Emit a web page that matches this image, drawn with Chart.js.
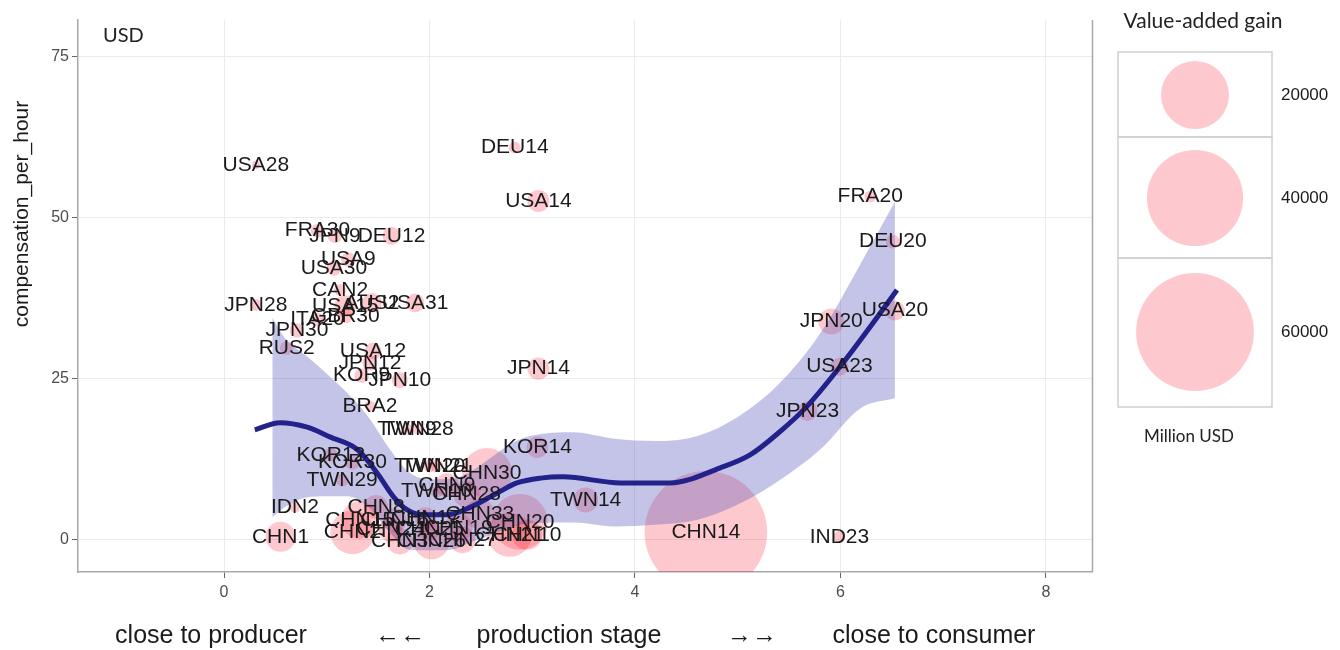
<!DOCTYPE html>
<html><head><meta charset="utf-8">
<script src="https://cdn.jsdelivr.net/npm/chart.js@4.4.1/dist/chart.umd.min.js"></script>
<style>html,body{margin:0;padding:0;background:#fff;} canvas{display:block;}</style>
</head><body>
<canvas id="c" width="1340" height="650"></canvas>
<script>
const labels = ['USA28','DEU14','USA14','FRA20','DEU20','USA20','JPN20','USA23','JPN23','IND23','CHN14','TWN14','KOR14','JPN14',
 'JPN28','FRA30','JPN9','DEU12','USA9','USA30','CAN2','USA31','USA15','AUS2','GBR30','ITA20','JPN30','RUS2','USA12','JPN12','KOR9','JPN10','BRA2',
 'TWN9','TWN28','KOR12','KOR30','TWN29','IDN2','CHN1','TWN20','TWN21','CHN30','CHN9','TWN10','CHN28','CHN8','CHN33','CHN20','CHN21','CHN10',
 'CHN15','CHN16','CHN17','CHN2','CHN24','CHN25','CHN19','CHN3','CHN26','CHN27'];
const stage = [0.31,2.83,3.06,6.29,6.51,6.53,5.91,5.99,5.68,5.99,4.69,3.52,3.05,3.06,
 0.31,0.91,1.08,1.63,1.21,1.07,1.13,1.86,1.18,1.44,1.18,0.91,0.71,0.61,1.45,1.42,1.34,1.71,1.42,
 1.78,1.89,1.04,1.25,1.15,0.69,0.55,2.00,2.07,2.56,2.17,2.07,2.36,1.48,2.49,2.88,2.78,2.95,
 1.32,1.66,1.96,1.25,1.62,2.00,2.28,1.71,2.02,2.32];
const comp = [58.2,60.9,52.6,53.3,46.3,35.6,33.9,26.9,20.0,0.5,1.2,6.2,14.4,26.6,
 36.5,48.0,47.2,47.2,43.5,42.2,38.8,36.8,36.3,36.8,34.8,34.2,32.5,29.8,29.3,27.5,25.5,24.8,20.8,
 17.2,17.2,13.2,12.0,9.3,5.1,0.5,11.5,11.5,10.4,8.5,7.5,7.1,5.1,4.0,2.8,0.8,0.8,
 3.1,3.1,3.4,1.2,1.6,1.6,1.9,-0.2,-0.2,0.0];
const gain = [300,600,2100,600,850,1700,2900,1400,1700,600,65000,2700,2000,2100,
 600,800,900,1400,900,1000,600,1500,2000,1700,1000,800,900,800,1200,1000,900,1100,500,
 500,500,800,900,700,500,3900,700,700,10800,2500,600,3000,2500,4000,13500,8400,3900,
 6000,2500,2000,8400,2500,2000,3500,3000,5600,3000];

const smoothX = [0.30,0.545,0.81,1.03,1.30,1.49,1.65,1.78,1.94,2.17,2.40,2.66,2.85,3.08,3.30,3.86,4.34,4.83,5.12,5.41,5.66,6.03,6.29,6.55];
const smoothY = [17.1,18.2,17.5,16.0,14.0,10.4,6.7,4.7,3.9,3.9,5.1,7.3,8.85,9.6,9.8,8.85,8.85,11.2,13.2,16.8,20.5,27.6,33.1,38.8];
const bandX = [0.47,0.6,0.8,1.0,1.2,1.4,1.6,1.8,2.0,2.2,2.4,2.6,2.8,3.0,3.4,3.8,4.2,4.6,5.0,5.4,5.8,6.2,6.53];
const bandUpper = [34.5,31.2,28.6,25.8,22.8,19.2,14.4,10.5,9.4,9.45,10.6,12.8,15.0,16.2,16.7,15.7,15.35,16.1,19.1,24.2,32.0,43.0,52.5];
const bandLower = [3.5,5.2,6.6,6.8,6.8,5.2,1.4,-1.5,-1.6,-1.55,-0.4,0.8,2.0,2.6,2.7,2.1,2.35,3.1,5.5,9.2,14.0,20.5,22.0];

const xTicks = [0,2,4,6,8];
const yTicks = [0,25,50,75];
const legendValues = [20000,40000,60000];
const xTitleParts = ['close to producer','\u2190\u2190','production stage','\u2192\u2192','close to consumer'];
const yTitle = 'compensation_per_hour';
const unitNote = 'USD';
const legendTitle = 'Value-added gain';
const legendNote = 'Million USD';

const SIZE_K = 0.2405;
const radiusFor = v => SIZE_K * Math.sqrt(v);
const BUBBLE = 'rgba(250,0,25,0.21)';
const BAND = 'rgba(60,60,180,0.30)';
const LINE = '#22228a';

const decor = {
  id: 'decor',
  afterDatasetsDraw(chart) {
    const ctx = chart.ctx;
    const meta = chart.getDatasetMeta(0);
    ctx.save();
    ctx.fillStyle = '#1a1a1a';
    ctx.font = '21px "Liberation Sans", Arial, sans-serif';
    ctx.textAlign = 'center';
    ctx.textBaseline = 'middle';
    meta.data.forEach((el, i) => { ctx.fillText(labels[i], el.x, el.y); });
    ctx.restore();
  },
  afterDraw(chart) {
    const ctx = chart.ctx, a = chart.chartArea;
    ctx.save();
    ctx.strokeStyle = '#a8a8a8'; ctx.lineWidth = 1.5;
    ctx.beginPath(); ctx.moveTo(a.right + 0.5, a.top); ctx.lineTo(a.right + 0.5, a.bottom); ctx.stroke();
    ctx.fillStyle = '#222';
    ctx.font = '20px Lato, "Open Sans", sans-serif';
    ctx.textAlign = 'left'; ctx.textBaseline = 'middle';
    ctx.fillText(unitNote, 103, 36);
    ctx.save();
    ctx.translate(22, 214); ctx.rotate(-Math.PI/2);
    ctx.font = '21px "Liberation Sans", Arial, sans-serif';
    ctx.textAlign = 'center'; ctx.fillStyle = '#1a1a1a';
    ctx.fillText(yTitle, 0, 0);
    ctx.restore();
    const xs = [211, 400, 569, 752, 934];
    ctx.font = '25px "Liberation Sans", Arial, sans-serif';
    ctx.textAlign = 'center'; ctx.fillStyle = '#1a1a1a';
    xTitleParts.forEach((t, i) => ctx.fillText(t, xs[i], 636));
    ctx.font = '21px Lato, "Open Sans", sans-serif';
    ctx.fillStyle = '#222';
    ctx.fillText(legendTitle, 1203, 21);
    const boxL = 1118, boxR = 1272;
    const rows = [[52,137],[137,258],[258,407]];
    const cys = [95,198,332];
    ctx.strokeStyle = '#cfcfcf'; ctx.lineWidth = 1.5;
    rows.forEach(r => ctx.strokeRect(boxL, r[0], boxR - boxL, r[1] - r[0]));
    legendValues.forEach((v, i) => {
      ctx.fillStyle = BUBBLE;
      ctx.beginPath(); ctx.arc(1195, cys[i], radiusFor(v), 0, Math.PI*2); ctx.fill();
      ctx.fillStyle = '#1a1a1a';
      ctx.font = '17px "Liberation Sans", Arial, sans-serif';
      ctx.textAlign = 'left';
      ctx.fillText(String(v), 1281, cys[i]);
    });
    ctx.font = '17px Lato, "Open Sans", sans-serif';
    ctx.textAlign = 'center'; ctx.fillStyle = '#222';
    ctx.fillText(legendNote, 1189, 437);
    ctx.restore();
  }
};

const bubbleData = labels.map((l, i) => ({ x: stage[i], y: comp[i], r: radiusFor(gain[i]) }));

new Chart(document.getElementById('c'), {
  type: 'bubble',
  data: {
    datasets: [
      { type: 'bubble', data: bubbleData, backgroundColor: BUBBLE, borderWidth: 0, borderColor: 'rgba(0,0,0,0)', hoverRadius: 0, order: 4 },
      { type: 'line', data: bandX.map((x, i) => ({ x, y: bandUpper[i] })), fill: '+1', backgroundColor: BAND, borderWidth: 0, pointRadius: 0, cubicInterpolationMode: 'monotone', order: 3 },
      { type: 'line', data: bandX.map((x, i) => ({ x, y: bandLower[i] })), fill: false, borderWidth: 0, pointRadius: 0, cubicInterpolationMode: 'monotone', order: 3 },
      { type: 'line', data: smoothX.map((x, i) => ({ x, y: smoothY[i] })), fill: false, borderColor: LINE, borderWidth: 5, pointRadius: 0, cubicInterpolationMode: 'monotone', borderCapStyle: 'butt', order: 1 }
    ]
  },
  options: {
    responsive: false,
    animation: false,
    devicePixelRatio: 1,
    layout: { autoPadding: false, padding: { top: 20, right: 248, left: 0, bottom: 0 } },
    plugins: { legend: { display: false }, tooltip: { enabled: false } },
    scales: {
      x: {
        type: 'linear', min: -1.421, max: 8.448,
        afterBuildTicks: s => { s.ticks = xTicks.map(v => ({ value: v })); },
        afterFit: s => { s.height = 78; },
        grid: { color: '#ebebeb', lineWidth: 1, tickColor: '#666', tickLength: 6 },
        border: { display: true, color: '#a8a8a8', width: 1.5 },
        ticks: { color: '#4d4d4d', font: { family: '"Liberation Sans", Arial, sans-serif', size: 16 }, padding: 5, maxRotation: 0 }
      },
      y: {
        type: 'linear', min: -4.97, max: 80.7,
        afterBuildTicks: s => { s.ticks = yTicks.map(v => ({ value: v })); },
        afterFit: s => { s.width = 78; },
        grid: { color: '#ebebeb', lineWidth: 1, tickColor: '#666', tickLength: 6 },
        border: { display: true, color: '#a8a8a8', width: 1.5 },
        ticks: { color: '#4d4d4d', font: { family: '"Liberation Sans", Arial, sans-serif', size: 16 }, padding: 3 }
      }
    }
  },
  plugins: [decor]
});
</script>
</body></html>
